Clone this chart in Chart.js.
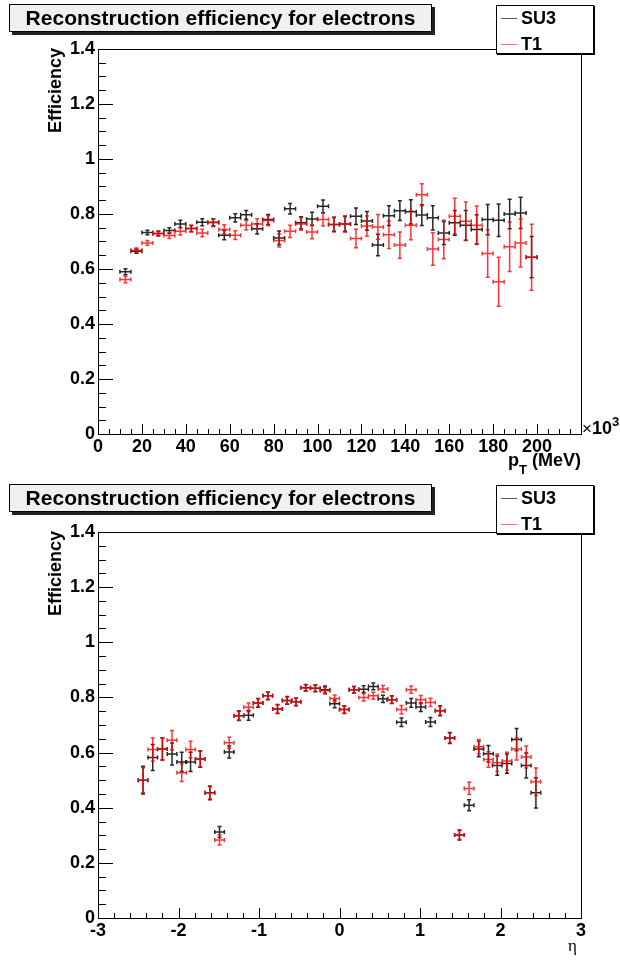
<!DOCTYPE html>
<html>
<head>
<meta charset="utf-8">
<script src="https://cdn.jsdelivr.net/npm/chart.js@4"></script>
<style>
  body { margin: 0; background: #fff; }
  #wrap { position: relative; width: 620px; height: 960px; font-family: 'Liberation Sans', Arial, sans-serif; }
  canvas { position: absolute; left: 0; }
  .title {
    position: absolute; left: 9px; width: 421px; height: 26px;
    border: 1px solid #000; background: #f0f0f0; box-shadow: 3px 3px 0 #222;
    font-weight: bold; font-size: 21px; line-height: 26px; text-align: center; color: #000;
    white-space: nowrap; overflow: hidden;
  }
  .legend {
    position: absolute; left: 496px; width: 96px; height: 47px;
    border: 1px solid #000; background: #fff; box-shadow: 1px 1px 0 #000;
  }
  .legend .entry { position: absolute; left: 24px; font-weight: bold; font-size: 18px; line-height: 18px; color: #000; }
  .legend .mark { position: absolute; left: 4px; width: 16px; height: 1px; }
</style>
</head>
<body>
<div id="wrap">
  <canvas id="ptChart" width="620" height="480" style="top:0"></canvas>
  <canvas id="etaChart" width="620" height="480" style="top:480px"></canvas>

  <div class="title" style="top:4px">Reconstruction efficiency for electrons</div>
  <div class="legend" style="top:5px">
    <div class="mark" style="top:12px;background:#555"></div><div class="entry" style="top:3px">SU3</div>
    <div class="mark" style="top:38px;background:#ff7070"></div><div class="entry" style="top:29px">T1</div>
  </div>

  <div class="title" style="top:484px">Reconstruction efficiency for electrons</div>
  <div class="legend" style="top:485px">
    <div class="mark" style="top:12px;background:#555"></div><div class="entry" style="top:3px">SU3</div>
    <div class="mark" style="top:38px;background:#ff7070"></div><div class="entry" style="top:29px">T1</div>
  </div>
</div>

<script>
// pT bins (x10^3 MeV), 5 wide
const ptCenters = [12.5, 17.5, 22.5, 27.5, 32.5, 37.5, 42.5, 47.5, 52.5, 57.5,
  62.5, 67.5, 72.5, 77.5, 82.5, 87.5, 92.5, 97.5, 102.5, 107.5,
  112.5, 117.5, 122.5, 127.5, 132.5, 137.5, 142.5, 147.5, 152.5, 157.5,
  162.5, 167.5, 172.5, 177.5, 182.5, 187.5, 192.5, 197.5];
const ptSU3 = [0.590, 0.665, 0.733, 0.729, 0.740, 0.764, 0.747, 0.770, 0.770, 0.723,
  0.786, 0.797, 0.746, 0.780, 0.713, 0.819, 0.768, 0.782, 0.828, 0.762,
  0.764, 0.792, 0.775, 0.687, 0.794, 0.812, 0.808, 0.796, 0.786, 0.731,
  0.768, 0.759, 0.744, 0.780, 0.777, 0.800, 0.804, 0.643];
const ptSU3Err = [0.011, 0.008, 0.008, 0.008, 0.010, 0.013, 0.011, 0.013, 0.013, 0.017,
  0.015, 0.016, 0.019, 0.018, 0.025, 0.019, 0.022, 0.024, 0.023, 0.025,
  0.027, 0.030, 0.034, 0.039, 0.036, 0.036, 0.044, 0.038, 0.044, 0.042,
  0.045, 0.054, 0.053, 0.055, 0.059, 0.054, 0.057, 0.075];
const ptT1 = [0.562, 0.668, 0.695, 0.729, 0.722, 0.737, 0.747, 0.731, 0.768, 0.744,
  0.723, 0.759, 0.764, 0.776, 0.704, 0.737, 0.764, 0.735, 0.780, 0.762,
  0.764, 0.711, 0.756, 0.753, 0.725, 0.687, 0.759, 0.870, 0.673, 0.707,
  0.792, 0.774, 0.759, 0.656, 0.554, 0.681, 0.695, 0.643];
const ptT1Err = [0.012, 0.008, 0.009, 0.009, 0.011, 0.013, 0.012, 0.014, 0.014, 0.017,
  0.016, 0.017, 0.019, 0.019, 0.024, 0.022, 0.023, 0.025, 0.024, 0.027,
  0.030, 0.034, 0.037, 0.045, 0.050, 0.048, 0.053, 0.040, 0.059, 0.070,
  0.065, 0.070, 0.070, 0.086, 0.089, 0.090, 0.088, 0.120];
const ptHalfWidth = 2.5;
const ptTickLabels = [0, 20, 40, 60, 80, 100, 120, 140, 160, 180, 200];

// eta bins, 42 bins over -2.5..2.5
const etaCenters = [-2.44, -2.32, -2.20, -2.08, -1.96, -1.85, -1.73, -1.61, -1.49, -1.37,
  -1.25, -1.13, -1.01, -0.89, -0.77, -0.65, -0.54, -0.42, -0.30, -0.18,
  -0.06, 0.06, 0.18, 0.30, 0.42, 0.54, 0.65, 0.77, 0.89, 1.01,
  1.13, 1.25, 1.37, 1.49, 1.61, 1.73, 1.85, 1.96, 2.08, 2.20,
  2.32, 2.44];
const etaSU3 = [0.500, 0.582, 0.613, 0.595, 0.566, 0.566, 0.577, 0.454, 0.312, 0.602,
  0.734, 0.735, 0.780, 0.806, 0.758, 0.789, 0.784, 0.835, 0.833, 0.828,
  0.777, 0.756, 0.828, 0.830, 0.840, 0.795, 0.792, 0.710, 0.780, 0.765,
  0.711, 0.752, 0.653, 0.301, 0.409, 0.613, 0.596, 0.553, 0.560, 0.647,
  0.553, 0.454];
const etaSU3Err = [0.050, 0.047, 0.040, 0.040, 0.035, 0.035, 0.030, 0.025, 0.020, 0.022,
  0.018, 0.018, 0.016, 0.014, 0.016, 0.014, 0.014, 0.012, 0.012, 0.013,
  0.014, 0.014, 0.012, 0.012, 0.012, 0.013, 0.014, 0.015, 0.016, 0.016,
  0.016, 0.018, 0.020, 0.018, 0.020, 0.028, 0.030, 0.035, 0.035, 0.040,
  0.045, 0.055];
const etaT1 = [0.500, 0.611, 0.613, 0.645, 0.527, 0.611, 0.577, 0.454, 0.283, 0.636,
  0.734, 0.764, 0.780, 0.806, 0.758, 0.789, 0.784, 0.835, 0.833, 0.824,
  0.796, 0.756, 0.828, 0.800, 0.806, 0.831, 0.792, 0.756, 0.828, 0.792,
  0.782, 0.752, 0.653, 0.301, 0.470, 0.621, 0.575, 0.563, 0.569, 0.613,
  0.584, 0.494];
const etaT1Err = [0.045, 0.042, 0.040, 0.035, 0.032, 0.030, 0.028, 0.022, 0.018, 0.020,
  0.016, 0.016, 0.015, 0.013, 0.015, 0.013, 0.013, 0.011, 0.011, 0.012,
  0.013, 0.013, 0.012, 0.013, 0.013, 0.012, 0.013, 0.015, 0.013, 0.015,
  0.015, 0.017, 0.018, 0.016, 0.022, 0.026, 0.028, 0.032, 0.032, 0.040,
  0.040, 0.050];
const etaHalfWidth = 0.06;
const etaTickLabels = [-3, -2, -1, 0, 1, 2, 3];

const effTickLabels = [0, 0.2, 0.4, 0.6, 0.8, 1, 1.2, 1.4];

const FONT = "'Liberation Sans', Arial, sans-serif";
Chart.defaults.font.family = FONT;

function toPoints(xs, ys) {
  return xs.map((x, i) => ({x: x, y: ys[i]}));
}

// ROOT-like frame: error crosses, inner ticks, axis titles
const rootFrame = {
  id: 'rootFrame',
  afterDatasetsDraw(chart, args, opts) {
    const ctx = chart.ctx;
    const xs = chart.scales.x, ys = chart.scales.y;
    const a = chart.chartArea;
    ctx.save();

    // error bars
    chart.data.datasets.forEach(ds => {
      ctx.strokeStyle = ds.borderColor;
      ctx.lineWidth = 1.5;
      ctx.beginPath();
      ds.data.forEach((p, i) => {
        const px = xs.getPixelForValue(p.x), py = ys.getPixelForValue(p.y);
        const xl = xs.getPixelForValue(p.x - ds.xErr), xr = xs.getPixelForValue(p.x + ds.xErr);
        const yt = ys.getPixelForValue(p.y + ds.yErr[i]), yb = ys.getPixelForValue(p.y - ds.yErr[i]);
        ctx.moveTo(xl, py); ctx.lineTo(xr, py);
        ctx.moveTo(px, yt); ctx.lineTo(px, yb);
        ctx.moveTo(xl, py - 2); ctx.lineTo(xl, py + 2);
        ctx.moveTo(xr, py - 2); ctx.lineTo(xr, py + 2);
        ctx.moveTo(px - 2, yt); ctx.lineTo(px + 2, yt);
        ctx.moveTo(px - 2, yb); ctx.lineTo(px + 2, yb);
      });
      ctx.stroke();
    });

    // frame
    ctx.strokeStyle = '#000';
    ctx.lineWidth = 1;
    ctx.strokeRect(Math.round(a.left) + 0.5, Math.round(a.top) + 0.5,
      Math.round(a.right - a.left), Math.round(a.bottom - a.top));

    // inner ticks
    ctx.beginPath();
    for (let k = 0; ; k++) {
      const v = ys.min + k * opts.yMinor;
      if (v > ys.max + 1e-9) break;
      const py = Math.round(ys.getPixelForValue(v)) + 0.5;
      const len = (k % opts.yRatio === 0) ? 15 : 8;
      ctx.moveTo(a.left, py); ctx.lineTo(a.left + len, py);
    }
    for (let k = 0; ; k++) {
      const v = xs.min + k * opts.xMinor;
      if (v > xs.max + 1e-9) break;
      const px = Math.round(xs.getPixelForValue(v)) + 0.5;
      const len = (k % opts.xRatio === 0) ? 10 : 5;
      ctx.moveTo(px, a.bottom); ctx.lineTo(px, a.bottom - len);
    }
    ctx.stroke();

    // y title
    ctx.fillStyle = '#000';
    ctx.save();
    ctx.translate(61, a.top - 1);
    ctx.rotate(-Math.PI / 2);
    ctx.font = 'bold 18px ' + FONT;
    ctx.textAlign = 'right';
    ctx.textBaseline = 'alphabetic';
    ctx.fillText('Efficiency', 0, 0);
    ctx.restore();

    // x title
    if (opts.kind === 'pt') {
      ctx.font = 'bold 18px ' + FONT;
      ctx.textAlign = 'right';
      ctx.textBaseline = 'alphabetic';
      const rest = ' (MeV)';
      ctx.fillText(rest, a.right, a.bottom + 32);
      let x = a.right - ctx.measureText(rest).width;
      ctx.font = 'bold 13px ' + FONT;
      ctx.fillText('T', x, a.bottom + 40);
      x -= ctx.measureText('T').width;
      ctx.font = 'bold 18px ' + FONT;
      ctx.fillText('p', x, a.bottom + 32);
      // x10^3 exponent
      ctx.textAlign = 'left';
      ctx.font = '17px ' + FONT;
      ctx.fillText('\u00d7', a.right + 1, a.bottom);
      let ex = a.right + 1 + ctx.measureText('\u00d7').width;
      ctx.font = 'bold 18px ' + FONT;
      ctx.fillText('10', ex, a.bottom);
      ex += ctx.measureText('10').width;
      ctx.font = 'bold 13px ' + FONT;
      ctx.fillText('3', ex, a.bottom - 8);
    } else {
      ctx.font = "17px 'Liberation Serif', serif";
      ctx.textAlign = 'right';
      ctx.textBaseline = 'alphabetic';
      ctx.fillText('\u03b7', a.right - 4, a.bottom + 33);
    }
    ctx.restore();
  }
};

function makeChart(id, cfg) {
  const tickFont = {size: 18, weight: 'bold'};
  return new Chart(id, {
    type: 'scatter',
    data: {
      datasets: [
        {label: 'SU3', data: toPoints(cfg.xs, cfg.su3), yErr: cfg.su3Err, xErr: cfg.hw,
         borderColor: 'rgba(0,0,0,0.85)', pointRadius: 0, showLine: false},
        {label: 'T1', data: toPoints(cfg.xs, cfg.t1), yErr: cfg.t1Err, xErr: cfg.hw,
         borderColor: 'rgba(255,0,0,0.8)', pointRadius: 0, showLine: false}
      ]
    },
    options: {
      responsive: false,
      animation: false,
      events: [],
      layout: {padding: {left: 0, right: 39, top: cfg.top, bottom: 0}},
      plugins: {
        legend: {display: false},
        tooltip: {enabled: false},
        rootFrame: {kind: cfg.kind, xMinor: cfg.xMinor, xRatio: cfg.xRatio, yMinor: 0.05, yRatio: 4}
      },
      scales: {
        x: {
          type: 'linear', min: cfg.xMin, max: cfg.xMax,
          grid: {display: false, drawTicks: false}, border: {display: false},
          afterBuildTicks: s => { s.ticks = cfg.xTicks.map(v => ({value: v})); },
          afterFit: s => { s.height = cfg.xAxisH; },
          ticks: {color: '#000', font: tickFont, padding: 2, maxRotation: 0, autoSkip: false,
                  callback: v => String(v)}
        },
        y: {
          type: 'linear', min: 0, max: 1.4,
          grid: {display: false, drawTicks: false}, border: {display: false},
          afterBuildTicks: s => { s.ticks = effTickLabels.map(v => ({value: v})); },
          afterFit: s => { s.width = 98; },
          ticks: {color: '#000', font: tickFont, padding: 3, autoSkip: false,
                  callback: v => String(+v.toFixed(1))}
        }
      }
    },
    plugins: [rootFrame]
  });
}

makeChart('ptChart', {
  kind: 'pt', xs: ptCenters, su3: ptSU3, su3Err: ptSU3Err, t1: ptT1, t1Err: ptT1Err,
  hw: ptHalfWidth, xMin: 0, xMax: 220, xTicks: ptTickLabels, xMinor: 5, xRatio: 4,
  top: 49, xAxisH: 46
});

makeChart('etaChart', {
  kind: 'eta', xs: etaCenters, su3: etaSU3, su3Err: etaSU3Err, t1: etaT1, t1Err: etaT1Err,
  hw: etaHalfWidth, xMin: -3, xMax: 3, xTicks: etaTickLabels, xMinor: 0.2, xRatio: 5,
  top: 52, xAxisH: 42
});
</script>
</body>
</html>
